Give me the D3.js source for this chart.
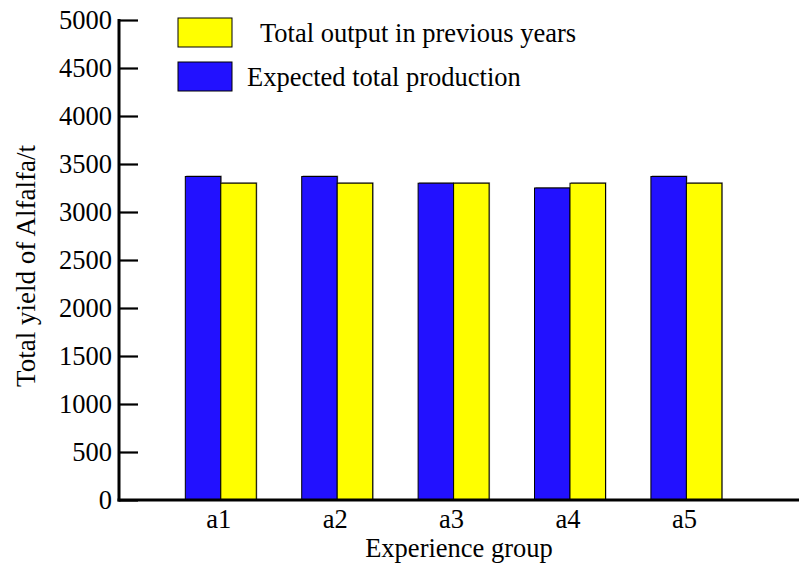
<!DOCTYPE html>
<html>
<head>
<meta charset="utf-8">
<script src="https://cdn.jsdelivr.net/npm/d3@7"></script>
<style>
  html, body { margin: 0; padding: 0; background: #fff; }
  svg { display: block; font-family: "Liberation Serif", "Times New Roman", serif; }
</style>
</head>
<body>
<div id="chart"></div>
<script>
// data
const groups = ['a1', 'a2', 'a3', 'a4', 'a5'];
const expected = [3370, 3370, 3300, 3250, 3370];
const previous = [3300, 3300, 3300, 3300, 3300];
const yTicks = [0, 500, 1000, 1500, 2000, 2500, 3000, 3500, 4000, 4500, 5000];
const seriesNames = ['Expected total production', 'Total output in previous years'];
const seriesKeys = ['expected', 'previous'];
const legendOrder = ['previous', 'expected'];

const W = 799, H = 565;
const M = { top: 20, right: 0, bottom: 65, left: 119 };
const COLORS = { expected: '#2211ff', previous: '#ffff00' };
const FS = '26.5px';

const rows = groups.map((g, i) => ({ group: g, expected: expected[i], previous: previous[i] }));

const svg = d3.select('#chart').append('svg')
  .attr('width', W)
  .attr('height', H);

const y = d3.scaleLinear()
  .domain([0, 5000])
  .range([H - M.bottom, M.top]);

const x0 = d3.scaleBand()
  .domain(groups)
  .range([162.6, 744.6])
  .paddingInner(0);

const x1 = d3.scaleBand()
  .domain(seriesKeys)
  .range([0, x0.bandwidth()])
  .paddingInner(0)
  .paddingOuter(0.64);

// bars
const grp = svg.append('g')
  .selectAll('g')
  .data(rows)
  .join('g')
  .attr('transform', d => `translate(${x0(d.group)},0)`);

// soft shadow
grp.selectAll('rect.shadow')
  .data(d => seriesKeys.map(k => ({ key: k, value: d[k] })))
  .join('rect')
  .attr('class', 'shadow')
  .attr('x', d => x1(d.key) + 1)
  .attr('y', d => y(d.value) - 1)
  .attr('width', x1.bandwidth())
  .attr('height', d => y(0) - y(d.value))
  .attr('fill', '#999');

grp.selectAll('rect.bar')
  .data(d => seriesKeys.map(k => ({ key: k, value: d[k] })))
  .join('rect')
  .attr('class', 'bar')
  .attr('x', d => x1(d.key))
  .attr('y', d => y(d.value))
  .attr('width', x1.bandwidth())
  .attr('height', d => y(0) - y(d.value))
  .attr('fill', d => COLORS[d.key])
  .attr('stroke', '#000')
  .attr('stroke-width', 1);

// y axis (ticks inside)
svg.append('g')
  .attr('transform', `translate(${M.left},0)`)
  .call(d3.axisRight(y).tickValues(yTicks).tickSize(19).tickFormat(''))
  .call(g => g.select('.domain').remove())
  .call(g => g.selectAll('.tick line').attr('stroke', '#000').attr('stroke-width', 2.2));

svg.append('g')
  .selectAll('text')
  .data(yTicks)
  .join('text')
  .attr('x', M.left - 7)
  .attr('y', d => y(d))
  .attr('dy', '0.34em')
  .attr('text-anchor', 'end')
  .attr('fill', '#000')
  .style('font-size', FS)
  .text(d => d);

svg.append('line')
  .attr('x1', M.left).attr('x2', M.left)
  .attr('y1', y(5000) - 1).attr('y2', y(0) + 1.5)
  .attr('stroke', '#000').attr('stroke-width', 3);

// x axis
svg.append('line')
  .attr('x1', M.left - 1.5).attr('x2', W)
  .attr('y1', y(0)).attr('y2', y(0))
  .attr('stroke', '#000').attr('stroke-width', 3);

svg.append('g')
  .selectAll('text')
  .data(groups)
  .join('text')
  .attr('x', d => x0(d) + x0.bandwidth() / 2 - 2)
  .attr('y', 528)
  .attr('text-anchor', 'middle')
  .attr('fill', '#000')
  .style('font-size', FS)
  .text(d => d);

svg.append('text')
  .attr('x', 459)
  .attr('y', 557)
  .attr('text-anchor', 'middle')
  .attr('fill', '#000')
  .style('font-size', FS)
  .text('Experience group');

svg.append('text')
  .attr('transform', 'translate(35,266) rotate(-90)')
  .attr('text-anchor', 'middle')
  .attr('fill', '#000')
  .style('font-size', '27px')
  .text('Total yield of Alfalfa/t');

// legend
const legend = svg.append('g').attr('transform', 'translate(178,18)');
legendOrder.forEach((k, i) => {
  const g = legend.append('g').attr('transform', `translate(0,${i * 44})`);
  g.append('rect')
    .attr('width', 54).attr('height', 29)
    .attr('fill', COLORS[k])
    .attr('stroke', '#000').attr('stroke-width', 1);
  g.append('text')
    .attr('x', k === 'previous' ? 82 : 69)
    .attr('y', 24)
    .attr('fill', '#000')
    .style('font-size', FS)
    .text(seriesNames[seriesKeys.indexOf(k)]);
});
</script>
</body>
</html>
